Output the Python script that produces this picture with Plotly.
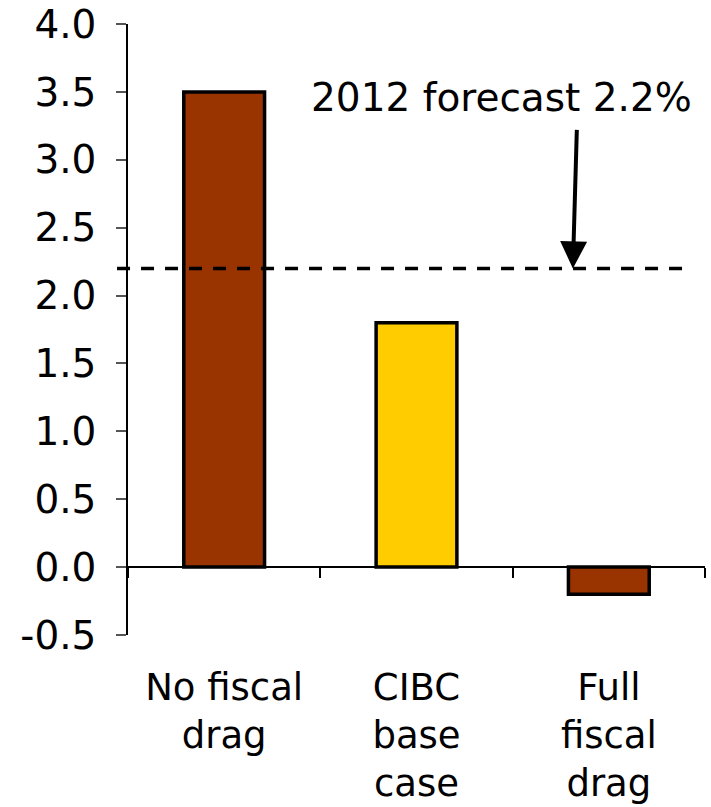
import plotly.graph_objects as go

# Scenario outcomes (% growth)
categories = ["No fiscal<br>drag", "CIBC<br>base<br>case", "Full<br>fiscal<br>drag"]
values = [3.5, 1.8, -0.2]
bar_colors = ["#993300", "#FFCC00", "#993300"]

forecast_value = 2.2
forecast_label = "2012 forecast 2.2%"

tick_vals = [-0.5, 0.0, 0.5, 1.0, 1.5, 2.0, 2.5, 3.0, 3.5, 4.0]
tick_text = [f"{v:.1f}" for v in tick_vals]

FONT = "DejaVu Sans, Verdana, sans-serif"
FONT_SIZE = 39
CAT_FONT_SIZE = 37

fig = go.Figure()

fig.add_trace(go.Bar(
    x=categories,
    y=values,
    width=0.42,
    marker=dict(color=bar_colors, line=dict(color="black", width=3.5)),
    hoverinfo="skip",
    showlegend=False,
))

# invisible companion trace so the zero-crossing axis gets the same categories
fig.add_trace(go.Scatter(
    x=categories,
    y=values,
    xaxis="x2",
    mode="markers",
    marker=dict(opacity=0),
    hoverinfo="skip",
    showlegend=False,
))

# dashed forecast reference line
fig.add_shape(
    type="line",
    xref="paper", x0=-0.019, x1=0.972,
    yref="y", y0=forecast_value, y1=forecast_value,
    line=dict(color="black", width=3.5, dash="13px,11px"),
)

fig.add_annotation(
    xref="paper", yref="paper",
    x=0.648, y=0.88,
    xanchor="center", yanchor="middle",
    text=forecast_label,
    showarrow=False,
    font=dict(family=FONT, size=FONT_SIZE, color="black"),
)

fig.add_annotation(
    xref="x domain", yref="y",
    x=0.771, y=forecast_value,
    text="",
    showarrow=True,
    arrowhead=2,
    arrowsize=1.35,
    arrowwidth=4,
    arrowcolor="black",
    ax=4, ay=-140,
)

fig.update_layout(
    width=711,
    height=807,
    margin=dict(l=128, r=6, t=24, b=172, autoexpand=False),
    paper_bgcolor="white",
    plot_bgcolor="white",
    font=dict(family=FONT, size=FONT_SIZE, color="black"),
    xaxis=dict(
        type="category",
        range=[-0.5, 2.5],
        showline=False,
        ticks="",
        showgrid=False,
        zeroline=False,
        automargin=False,
        ticklabelstandoff=27,
        tickfont=dict(family=FONT, size=CAT_FONT_SIZE, color="black"),
    ),
    xaxis2=dict(
        type="category",
        overlaying="x",
        matches="x",
        anchor="free",
        position=0.5 / 4.5,
        showline=True,
        linecolor="black",
        linewidth=1.5,
        ticks="outside",
        tickson="boundaries",
        ticklen=10,
        tickwidth=1.5,
        tickcolor="black",
        showticklabels=False,
        showgrid=False,
        zeroline=False,
        automargin=False,
    ),
    yaxis=dict(
        range=[-0.5, 4.0],
        tickvals=tick_vals,
        ticktext=tick_text,
        showline=True,
        linecolor="black",
        linewidth=1.5,
        ticks="outside",
        ticklen=10,
        tickwidth=1.5,
        tickcolor="#555555",
        showgrid=False,
        zeroline=False,
        automargin=False,
        ticklabelstandoff=12,
        tickfont=dict(family=FONT, size=FONT_SIZE, color="black"),
    ),
)

fig.write_html("out.html")
